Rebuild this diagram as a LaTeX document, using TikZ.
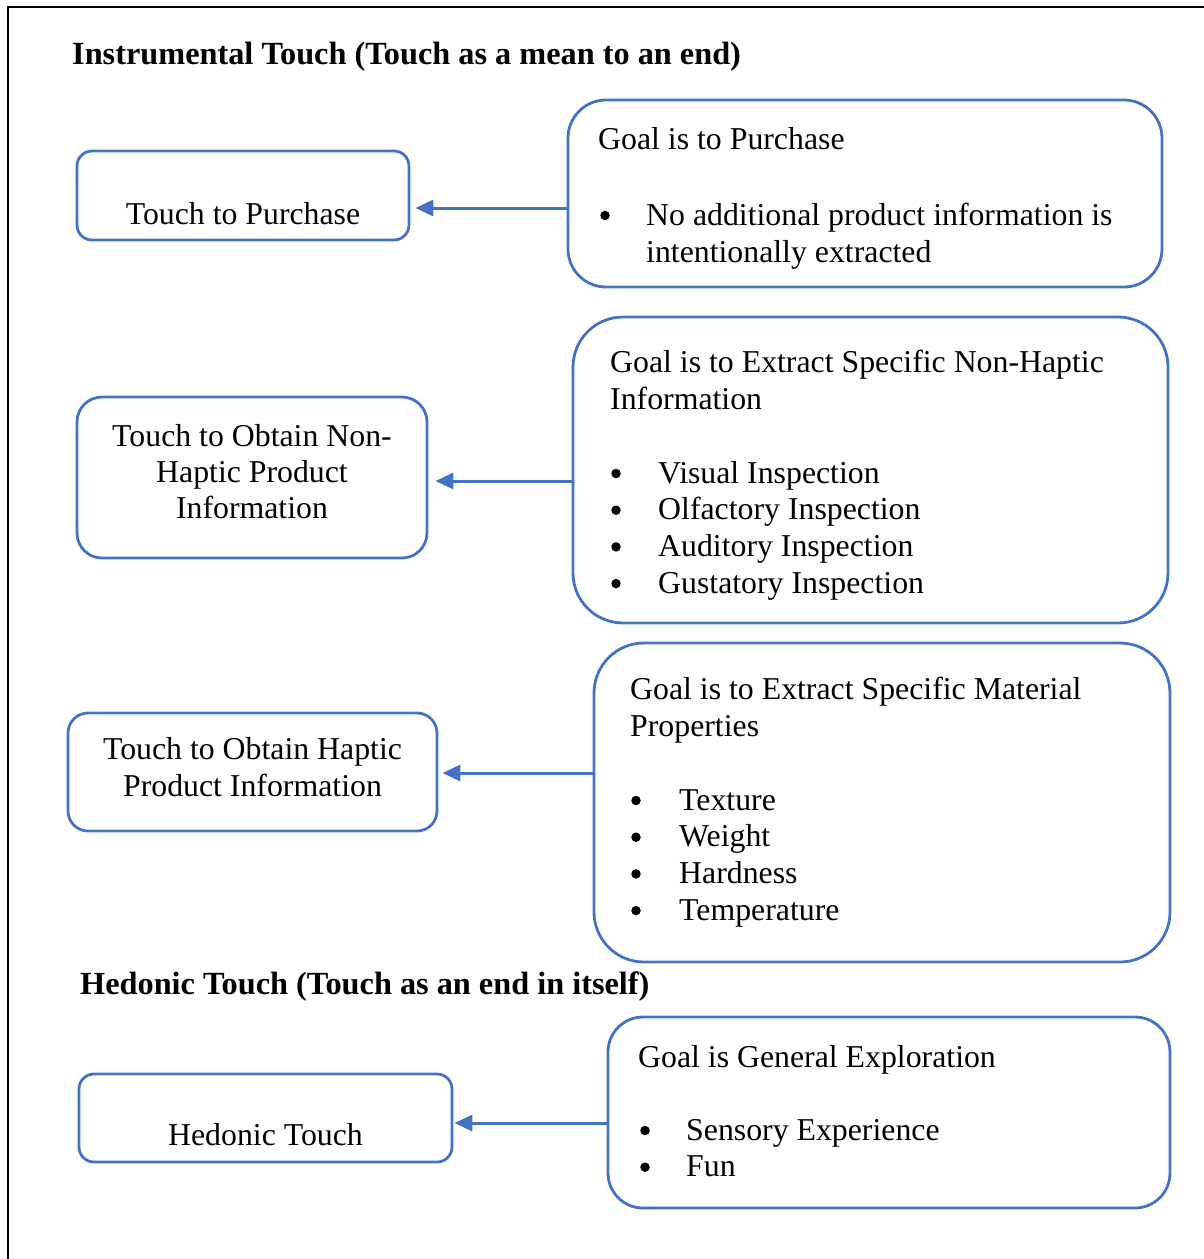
\documentclass[tikz,border=0pt]{standalone}
\usepackage{fontspec}
\setmainfont{Liberation Serif}
\usetikzlibrary{arrows.meta, positioning}
\definecolor{touchblue}{RGB}{68, 114, 196}

\tikzset{
  touchbox/.style={draw=touchblue, line width=2.8pt, inner sep=0pt},
  txt/.style={anchor=base west, inner sep=0pt, font=\fontsize{31.8}{36.6}\selectfont},
  ctxt/.style={txt, anchor=base},
  bul/.style={circle, fill=black, inner sep=0pt, minimum size=9.5pt},
  heading/.style={txt, font=\fontsize{32.3}{36.6}\selectfont\bfseries},
  link/.style={draw=touchblue, line width=3pt, -{Triangle[length=18pt, width=16pt]}},
}

\begin{document}
\begin{tikzpicture}[x=1pt, y=-1pt]
  \useasboundingbox (0,0) rectangle (1204,1259);
  \draw[line width=2pt] (8,1259) -- (8,7) -- (1204,7);

  % section titles
  \node[heading] (instr) at (72,64) {Instrumental Touch (Touch as a mean to an end)};
  \node[heading] (hedon) at (80,994) {Hedonic Touch (Touch as an end in itself)};

  % touch boxes (left)
  \node[touchbox, rounded corners=15pt, minimum width=332pt, minimum height=89pt] (purchase) at (243,195.5) {};
  \node[touchbox, rounded corners=25pt, minimum width=350pt, minimum height=161pt] (nonhaptic) at (252,477.5) {};
  \node[touchbox, rounded corners=20pt, minimum width=369pt, minimum height=118pt] (haptic) at (252.5,772) {};
  \node[touchbox, rounded corners=15pt, minimum width=373pt, minimum height=88pt] (hedonic) at (265.5,1118) {};

  \node[ctxt] (purchaseT) at (243,224) {Touch to Purchase};
  \node[ctxt] (nonhapticT1) at (252,446) {Touch to Obtain Non-};
  \node[ctxt] (nonhapticT2) at (252,482) {Haptic Product};
  \node[ctxt] (nonhapticT3) at (252,518) {Information};
  \node[ctxt] (hapticT1) at (252.5,759) {Touch to Obtain Haptic};
  \node[ctxt] (hapticT2) at (252.5,796) {Product Information};
  \node[ctxt] (hedonicT) at (265.5,1145) {Hedonic Touch};

  % goal boxes (right)
  \node[touchbox, rounded corners=38pt, minimum width=594pt, minimum height=187pt] (goalpurchase) at (865,193.5) {};
  \node[touchbox, rounded corners=50pt, minimum width=595pt, minimum height=306pt] (goalnonhaptic) at (870.5,470) {};
  \node[touchbox, rounded corners=50pt, minimum width=576pt, minimum height=319pt] (goalhaptic) at (882,802.5) {};
  \node[touchbox, rounded corners=35pt, minimum width=562pt, minimum height=191pt] (goalhedonic) at (889,1112.5) {};

  % goal texts
  \node[txt] (gpT) at (598,149) {Goal is to Purchase};
  \node[bul] (gpB) at (605,215.5) {};
  \node[txt] (gpT1) at (646,225) {No additional product information is};
  \node[txt] (gpT2) at (646,262) {intentionally extracted};

  \node[txt] (gnT1) at (610,372) {Goal is to Extract Specific Non-Haptic};
  \node[txt] (gnT2) at (610,409) {Information};
  \foreach \entry [count=\i] in {Visual Inspection, Olfactory Inspection, Auditory Inspection, Gustatory Inspection} {
    \node[bul] (gnB\i) at (616,{473.5+36.7*(\i-1)}) {};
    \node[txt] (gnI\i) at (658,{483+36.7*(\i-1)}) {\entry};
  }

  \node[txt] (ghT1) at (630,699) {Goal is to Extract Specific Material};
  \node[txt] (ghT2) at (630,736) {Properties};
  \foreach \entry [count=\i] in {Texture, Weight, Hardness, Temperature} {
    \node[bul] (ghB\i) at (636,{800.5+36.7*(\i-1)}) {};
    \node[txt] (ghI\i) at (679,{810+36.7*(\i-1)}) {\entry};
  }

  \node[txt] (geT) at (638,1067) {Goal is General Exploration};
  \foreach \entry [count=\i] in {Sensory Experience, Fun} {
    \node[bul] (geB\i) at (645,{1130.5+36.7*(\i-1)}) {};
    \node[txt] (geI\i) at (686,{1140+36.7*(\i-1)}) {\entry};
  }

  % arrows goal -> touch
  \draw[link, shorten >=5pt] ([yshift=-14.5pt]goalpurchase.west) -- ([yshift=-14.5pt]goalpurchase.west -| purchase.east);
  \draw[link, shorten >=7pt] ([yshift=-11pt]goalnonhaptic.west) -- ([yshift=-11pt]goalnonhaptic.west -| nonhaptic.east);
  \draw[link, shorten >=4pt] ([yshift=29.5pt]goalhaptic.west) -- ([yshift=29.5pt]goalhaptic.west -| haptic.east);
  \draw[link, shorten >=1pt] ([yshift=-10.5pt]goalhedonic.west) -- ([yshift=-10.5pt]goalhedonic.west -| hedonic.east);
\end{tikzpicture}
\end{document}
